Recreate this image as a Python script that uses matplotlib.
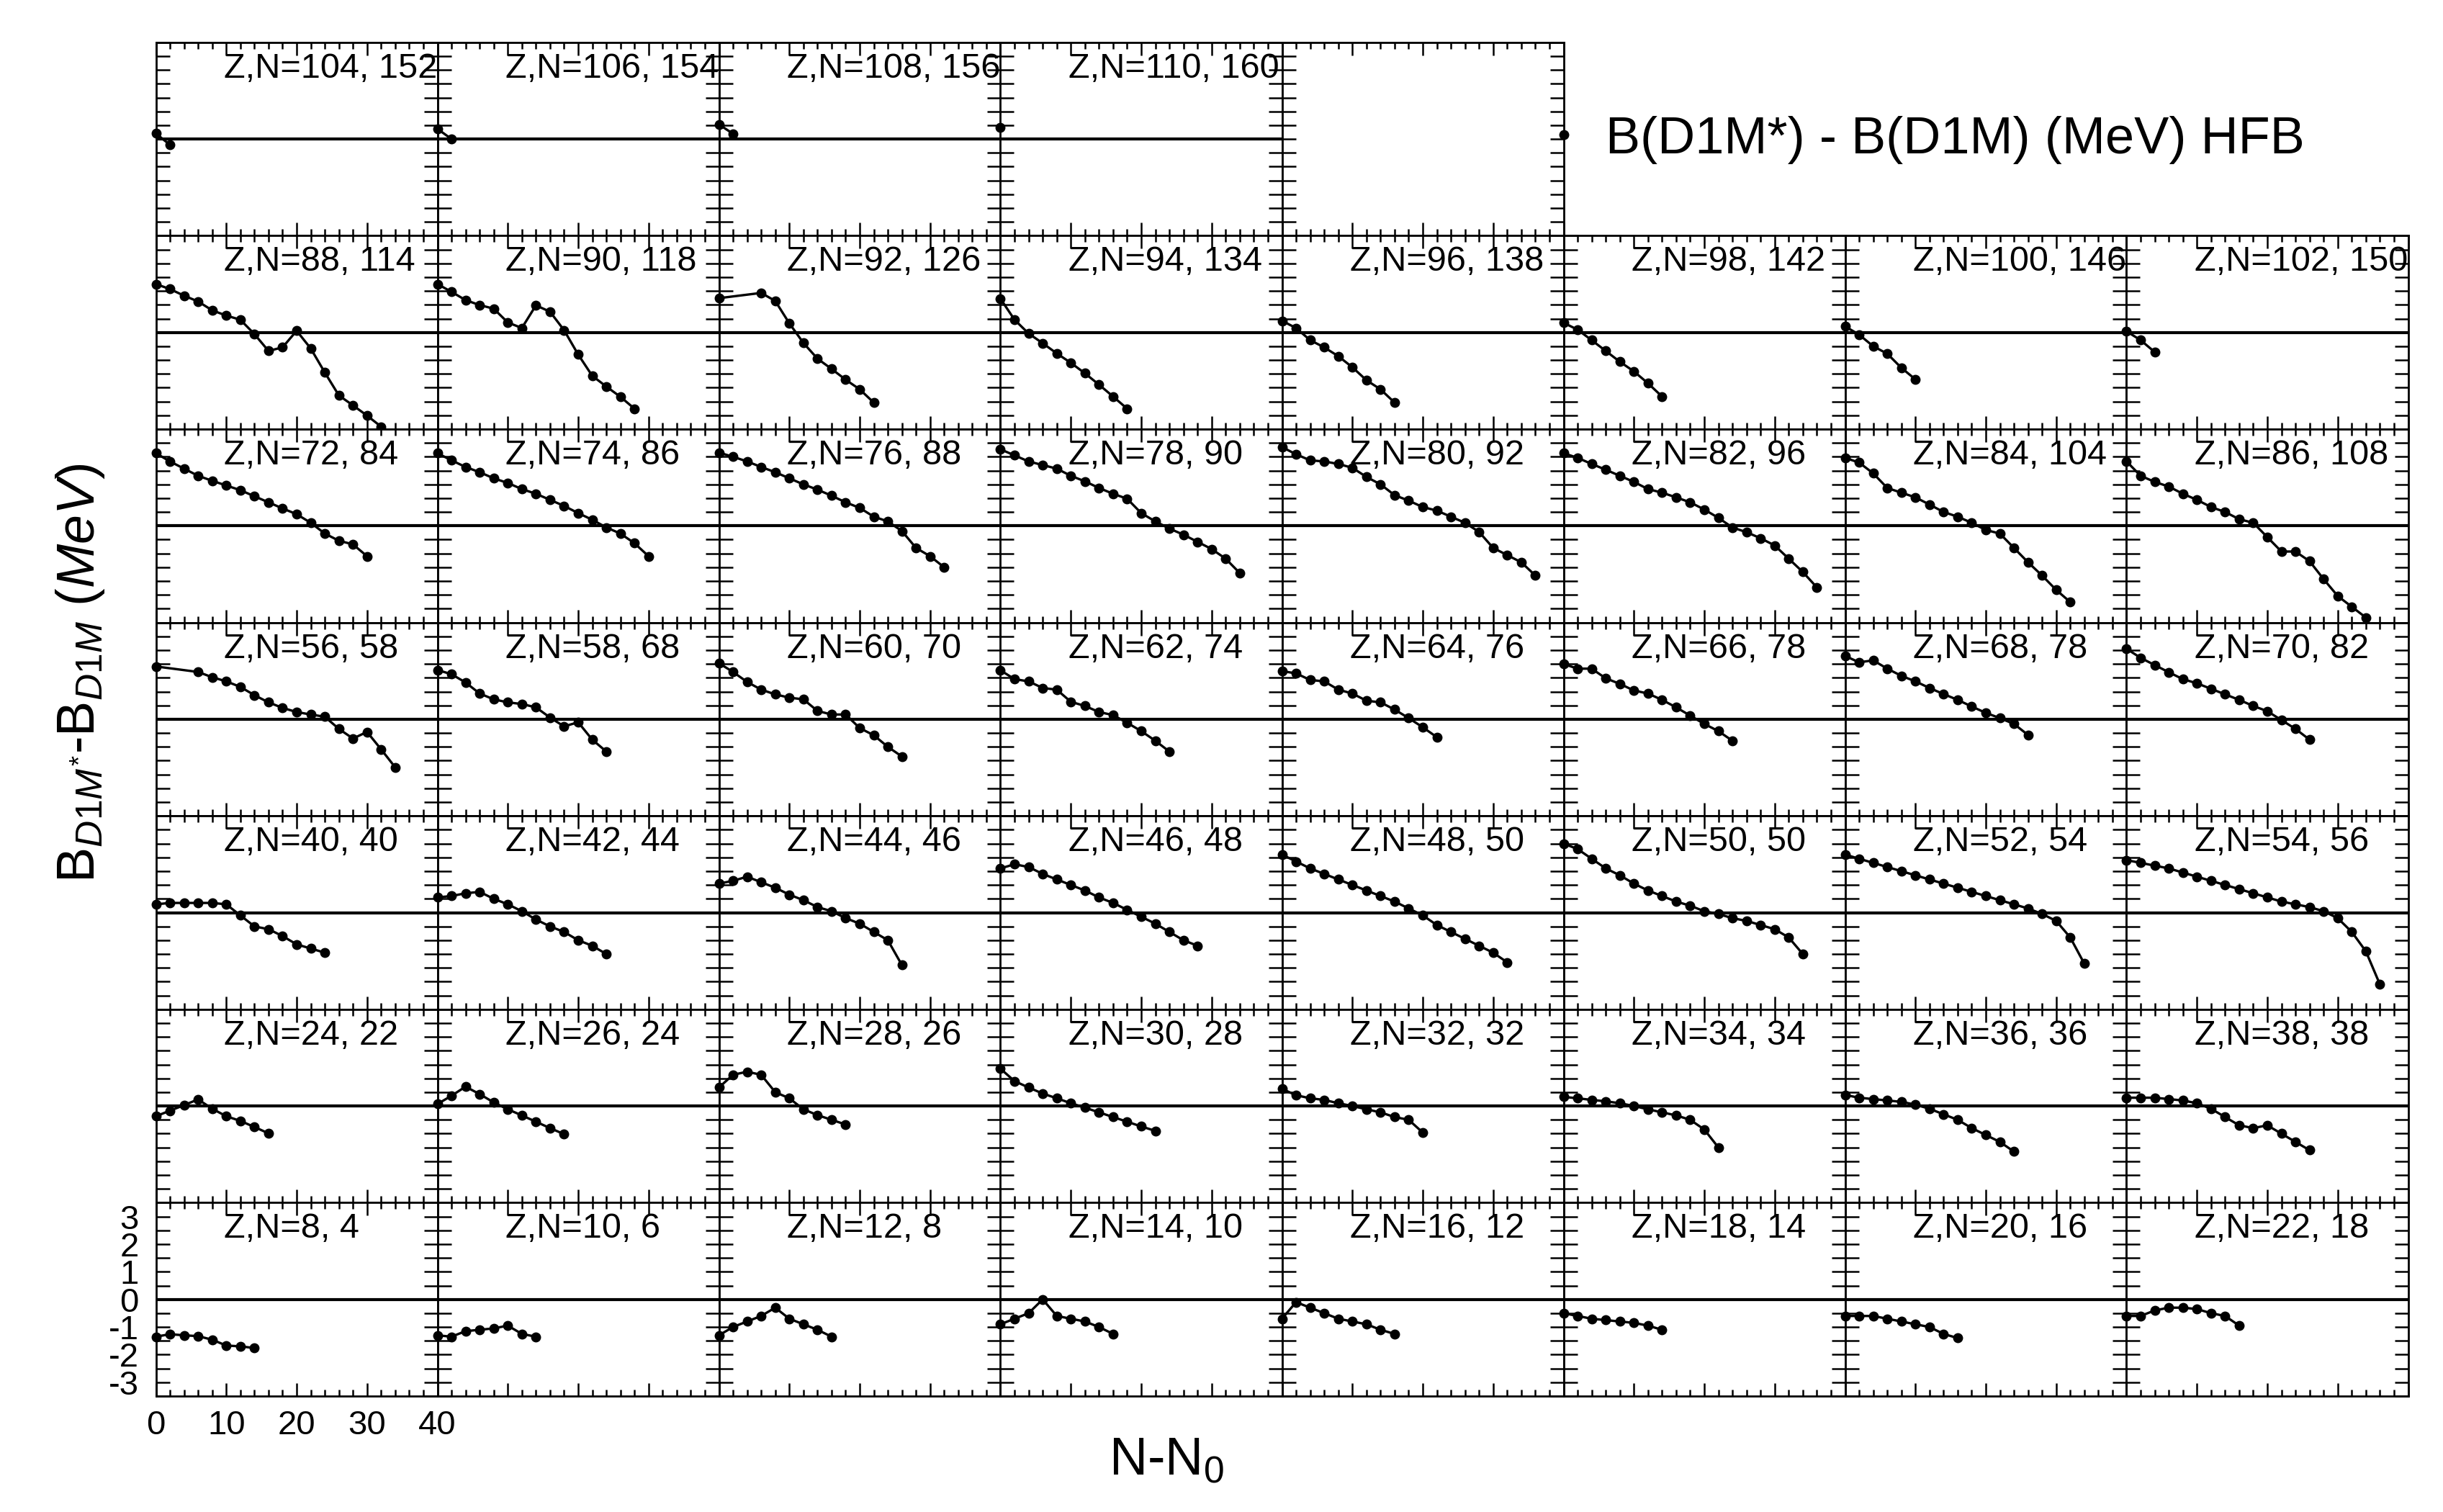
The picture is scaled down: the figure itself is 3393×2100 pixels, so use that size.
import numpy as np
import matplotlib
matplotlib.use('Agg')
import matplotlib.pyplot as plt
from matplotlib.ticker import MultipleLocator, NullFormatter

plt.rcParams['font.family'] = ['Liberation Sans', 'DejaVu Sans']
plt.rcParams['mathtext.fontset'] = 'custom'
plt.rcParams['mathtext.rm'] = 'Liberation Sans'
plt.rcParams['mathtext.it'] = 'Liberation Sans:italic'
plt.rcParams['mathtext.bf'] = 'Liberation Sans:bold'
plt.rcParams['axes.unicode_minus'] = False

# ---------------- data: B(D1M*) - B(D1M) (MeV) vs N-N0 ----------------
z104 = [0.20, -0.21]
z106 = [0.37, 0.00]
z108 = [0.53, 0.19]
z110 = [0.41]

z88 = [1.75, 1.57, 1.33, 1.12, 0.80, 0.61, 0.46, -0.06, -0.67, -0.54, 0.06, -0.58, -1.45, -2.28, -2.64, -3.01, -3.41]
z90 = [1.75, 1.47, 1.17, 0.99, 0.86, 0.36, 0.16, 0.98, 0.75, 0.08, -0.80, -1.57, -1.96, -2.33, -2.76]
z92_x = [0, 6, 8, 10, 12, 14, 16, 18, 20, 22]
z92 = [1.24, 1.43, 1.14, 0.33, -0.38, -0.95, -1.32, -1.71, -2.06, -2.54]
z94 = [1.22, 0.46, -0.04, -0.39, -0.76, -1.10, -1.48, -1.89, -2.32, -2.76]
z96 = [0.42, 0.16, -0.28, -0.54, -0.86, -1.26, -1.73, -2.06, -2.54]
z98 = [0.35, 0.10, -0.28, -0.67, -1.06, -1.41, -1.84, -2.32]
z100 = [0.22, -0.08, -0.50, -0.77, -1.28, -1.70]
z102 = [0.04, -0.28, -0.71]

z72 = [2.63, 2.33, 2.07, 1.81, 1.63, 1.46, 1.29, 1.07, 0.85, 0.63, 0.42, 0.11, -0.28, -0.54, -0.67, -1.10]
z74 = [2.63, 2.37, 2.13, 1.94, 1.72, 1.55, 1.33, 1.16, 0.94, 0.72, 0.46, 0.22, -0.06, -0.28, -0.63, -1.10]
z76 = [2.65, 2.50, 2.33, 2.13, 1.94, 1.72, 1.50, 1.31, 1.09, 0.85, 0.65, 0.33, 0.16, -0.19, -0.80, -1.10, -1.50]
z78 = [2.77, 2.55, 2.33, 2.20, 2.07, 1.81, 1.61, 1.37, 1.16, 0.98, 0.46, 0.16, -0.10, -0.32, -0.58, -0.84, -1.19, -1.71]
z80 = [2.85, 2.59, 2.37, 2.33, 2.24, 2.10, 1.77, 1.50, 1.11, 0.91, 0.68, 0.55, 0.33, 0.11, -0.22, -0.80, -1.06, -1.32, -1.80]
z82 = [2.63, 2.46, 2.24, 2.03, 1.81, 1.59, 1.33, 1.20, 1.03, 0.85, 0.59, 0.29, -0.06, -0.23, -0.45, -0.71, -1.19, -1.67, -2.23]
z84 = [2.46, 2.29, 1.90, 1.37, 1.20, 1.03, 0.77, 0.50, 0.33, 0.11, -0.15, -0.28, -0.80, -1.32, -1.80, -2.32, -2.76]
z86 = [2.33, 1.81, 1.59, 1.42, 1.16, 0.94, 0.68, 0.50, 0.24, 0.11, -0.41, -0.93, -0.93, -1.28, -1.93, -2.54, -2.93, -3.32]

z56_x = [0, 6, 8, 10, 12, 14, 16, 18, 20, 22, 24, 26, 28, 30, 32, 34]
z56 = [1.91, 1.71, 1.52, 1.37, 1.17, 0.87, 0.61, 0.41, 0.26, 0.17, 0.09, -0.35, -0.70, -0.46, -1.09, -1.74]
z58 = [1.78, 1.63, 1.33, 0.93, 0.72, 0.61, 0.55, 0.43, 0.06, -0.26, -0.11, -0.74, -1.17]
z60 = [2.03, 1.71, 1.35, 1.07, 0.90, 0.78, 0.72, 0.30, 0.17, 0.17, -0.32, -0.58, -1.00, -1.35]
z62 = [1.77, 1.45, 1.37, 1.13, 1.07, 0.63, 0.48, 0.26, 0.15, -0.13, -0.43, -0.78, -1.17]
z64 = [1.74, 1.66, 1.42, 1.37, 1.07, 0.93, 0.67, 0.61, 0.35, 0.04, -0.29, -0.65]
z66 = [2.00, 1.83, 1.83, 1.48, 1.28, 1.04, 0.93, 0.70, 0.43, 0.13, -0.17, -0.43, -0.78]
z68 = [2.29, 2.06, 2.13, 1.83, 1.57, 1.37, 1.13, 0.91, 0.70, 0.46, 0.23, 0.04, -0.17, -0.57]
z70 = [2.55, 2.22, 1.96, 1.70, 1.45, 1.30, 1.10, 0.90, 0.70, 0.48, 0.29, -0.03, -0.35, -0.74]

z40 = [0.30, 0.35, 0.35, 0.35, 0.35, 0.30, -0.10, -0.50, -0.60, -0.85, -1.15, -1.30, -1.45]
z42 = [0.55, 0.60, 0.70, 0.75, 0.50, 0.30, 0.05, -0.25, -0.50, -0.70, -1.00, -1.20, -1.50]
z44 = [1.05, 1.15, 1.30, 1.10, 0.90, 0.65, 0.45, 0.20, 0.05, -0.20, -0.40, -0.70, -1.00, -1.90]
z46 = [1.60, 1.75, 1.65, 1.40, 1.20, 1.00, 0.80, 0.55, 0.35, 0.10, -0.15, -0.40, -0.70, -1.00, -1.20]
z48 = [2.10, 1.85, 1.60, 1.40, 1.20, 1.00, 0.80, 0.60, 0.40, 0.15, -0.10, -0.45, -0.70, -0.95, -1.20, -1.45, -1.80]
z50 = [2.50, 2.30, 1.95, 1.60, 1.35, 1.05, 0.80, 0.60, 0.40, 0.25, 0.05, -0.05, -0.20, -0.30, -0.45, -0.60, -0.90, -1.50]
z52 = [2.10, 1.95, 1.80, 1.65, 1.50, 1.35, 1.20, 1.05, 0.90, 0.75, 0.60, 0.45, 0.30, 0.15, -0.05, -0.30, -0.90, -1.85]
z54 = [1.90, 1.80, 1.70, 1.60, 1.45, 1.30, 1.15, 1.00, 0.85, 0.70, 0.55, 0.40, 0.30, 0.20, 0.05, -0.20, -0.70, -1.40, -2.60]

z24 = [-0.37, -0.17, 0.03, 0.24, -0.10, -0.37, -0.54, -0.76, -0.99]
z26 = [0.07, 0.37, 0.70, 0.43, 0.13, -0.12, -0.34, -0.57, -0.80, -1.02]
z28 = [0.67, 1.13, 1.24, 1.13, 0.50, 0.28, -0.12, -0.33, -0.50, -0.67]
z30 = [1.35, 0.90, 0.67, 0.45, 0.28, 0.10, -0.06, -0.23, -0.40, -0.57, -0.74, -0.90]
z32 = [0.62, 0.39, 0.28, 0.22, 0.10, 0.00, -0.12, -0.23, -0.40, -0.50, -0.96]
z34 = [0.33, 0.28, 0.22, 0.17, 0.10, 0.00, -0.12, -0.23, -0.34, -0.50, -0.85, -1.50]
z36 = [0.40, 0.30, 0.25, 0.20, 0.15, 0.05, -0.10, -0.30, -0.50, -0.80, -1.05, -1.30, -1.65]
z38 = [0.30, 0.30, 0.30, 0.25, 0.20, 0.10, -0.10, -0.40, -0.70, -0.80, -0.70, -1.00, -1.30, -1.60]

z8 = [-1.35, -1.26, -1.30, -1.33, -1.46, -1.67, -1.70, -1.76]
z10 = [-1.30, -1.35, -1.15, -1.10, -1.05, -0.95, -1.25, -1.35]
z12 = [-1.30, -1.00, -0.80, -0.60, -0.30, -0.70, -0.90, -1.10, -1.35]
z14 = [-0.90, -0.70, -0.50, 0.00, -0.60, -0.70, -0.80, -1.00, -1.25]
z16 = [-0.70, -0.10, -0.30, -0.50, -0.70, -0.80, -0.90, -1.10, -1.25]
z18 = [-0.50, -0.60, -0.70, -0.75, -0.80, -0.85, -0.95, -1.10]
z20 = [-0.60, -0.60, -0.60, -0.70, -0.80, -0.90, -1.00, -1.25, -1.40]
z22 = [-0.60, -0.60, -0.40, -0.30, -0.30, -0.35, -0.50, -0.60, -0.95]

# panel grid: (Z, N0, y-values, x-values or None for N-N0 = 0,2,4,...)
rows = [
    [(104, 152, z104, None), (106, 154, z106, None), (108, 156, z108, None), (110, 160, z110, None), None],
    [(88, 114, z88, None), (90, 118, z90, None), (92, 126, z92, z92_x), (94, 134, z94, None),
     (96, 138, z96, None), (98, 142, z98, None), (100, 146, z100, None), (102, 150, z102, None)],
    [(72, 84, z72, None), (74, 86, z74, None), (76, 88, z76, None), (78, 90, z78, None),
     (80, 92, z80, None), (82, 96, z82, None), (84, 104, z84, None), (86, 108, z86, None)],
    [(56, 58, z56, z56_x), (58, 68, z58, None), (60, 70, z60, None), (62, 74, z62, None),
     (64, 76, z64, None), (66, 78, z66, None), (68, 78, z68, None), (70, 82, z70, None)],
    [(40, 40, z40, None), (42, 44, z42, None), (44, 46, z44, None), (46, 48, z46, None),
     (48, 50, z48, None), (50, 50, z50, None), (52, 54, z52, None), (54, 56, z54, None)],
    [(24, 22, z24, None), (26, 24, z26, None), (28, 26, z28, None), (30, 28, z30, None),
     (32, 32, z32, None), (34, 34, z34, None), (36, 36, z36, None), (38, 38, z38, None)],
    [(8, 4, z8, None), (10, 6, z10, None), (12, 8, z12, None), (14, 10, z14, None),
     (16, 12, z16, None), (18, 14, z18, None), (20, 16, z20, None), (22, 18, z22, None)],
]

legend_label = 'B(D1M*) - B(D1M) (MeV) HFB'

# ---------------- layout ----------------
FW, FH = 3393, 2100
fig = plt.figure(figsize=(FW / 100, FH / 100), dpi=100)

L = 216.5 / FW
W = 391.0 / FW
B0 = (FH - 1939.0) / FH
H = 268.6 / FH
nrows = len(rows)

handle = None
for r, row in enumerate(rows):
    for c, panel in enumerate(row):
        ax = fig.add_axes([L + c * W, B0 + (nrows - 1 - r) * H, W, H])
        ax.set_xlim(0, 40)
        ax.set_ylim(-3.5, 3.5)
        ax.xaxis.set_major_locator(MultipleLocator(10))
        ax.xaxis.set_minor_locator(MultipleLocator(2))
        ax.yaxis.set_major_locator(MultipleLocator(1))
        ax.yaxis.set_minor_locator(MultipleLocator(0.5))
        ax.tick_params(which='both', direction='in', top=True, right=True,
                       width=1.8, colors='black')
        ax.tick_params(axis='x', which='major', length=13)
        ax.tick_params(axis='x', which='minor', length=6.5)
        ax.tick_params(axis='y', which='both', length=13.5)
        for s in ax.spines.values():
            s.set_linewidth(2.0)
        is_label_panel = (r == nrows - 1 and c == 0)
        if is_label_panel:
            ax.tick_params(axis='x', labelsize=34, pad=14)
            ax.tick_params(axis='y', labelsize=34, pad=17)
        else:
            ax.xaxis.set_major_formatter(NullFormatter())
            ax.yaxis.set_major_formatter(NullFormatter())
        if panel is None:
            continue
        Z, N0, yv, xv = panel
        if xv is None:
            xv = np.arange(len(yv)) * 2
        ax.axhline(0, color='black', lw=3.0, zorder=2)
        ln, = ax.plot(xv, yv, color='black', lw=2.4, marker='o', ms=9,
                      clip_on=False, zorder=3)
        if handle is None:
            handle = ln
        ax.text(0.2417, 0.8176, 'Z,N=%d, %d' % (Z, N0), transform=ax.transAxes,
                fontsize=35, ha='left', va='baseline')

# axis titles
fig.text(112 / FW, 0.555, r'B$_{D1M^{*}}$-B$_{D1M}$ $(MeV)$', rotation=90,
         fontsize=53, ha='center', va='center')
fig.text(1620 / FW, 1 - 2028 / FH, r'N-N$_0$', fontsize=53, ha='center', va='center')

# legend
fig.legend(handles=[handle], labels=[legend_label], loc='center left',
           bbox_to_anchor=(2172 / FW, 1 - 194 / FH), frameon=False,
           handlelength=0, handletextpad=0.8, borderpad=0, borderaxespad=0,
           fontsize=52)

fig.savefig('out.png', dpi=100)
